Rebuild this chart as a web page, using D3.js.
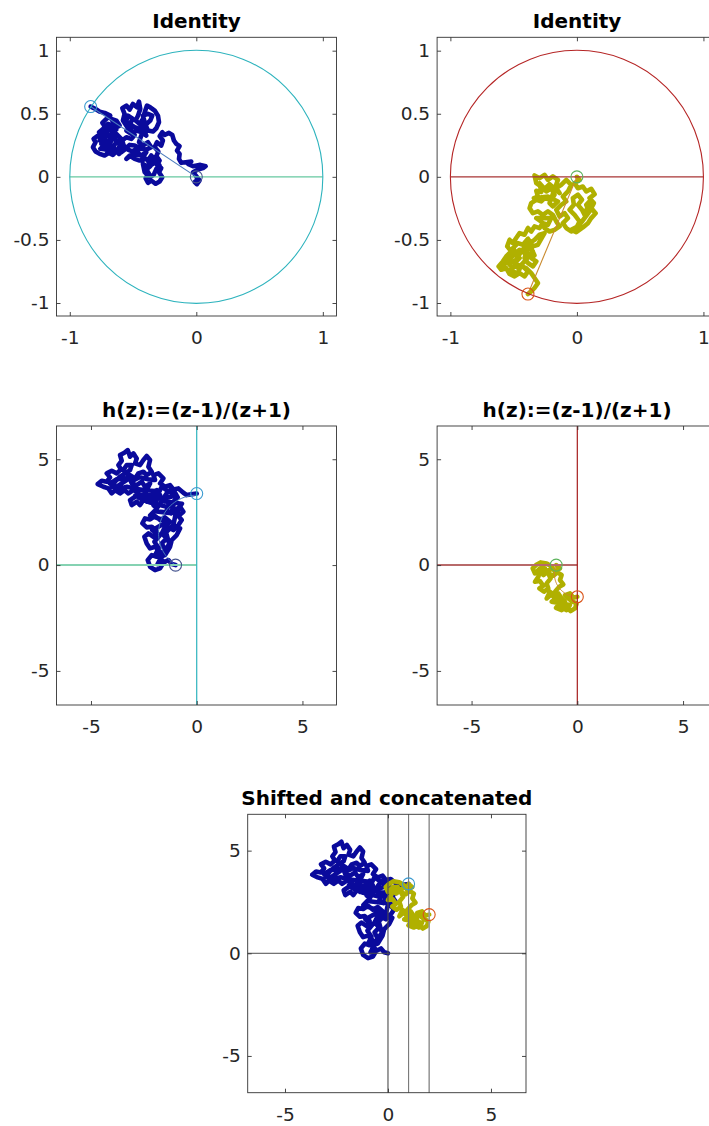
<!DOCTYPE html>
<html>
<head>
<meta charset="utf-8">
<script src="https://cdn.jsdelivr.net/npm/d3@7"></script>
<style>
  body { margin: 0; background: #fff; }
  svg { display: block; }
</style>
</head>
<body>
<div id="fig"></div>
<script>
// walk in the unit disk, from 0 until it hits the circle (blue)
var walkA = [[0,0],[0.013,-0.021],[-0.013,-0.042],[0.005,-0.058],[0.026,-0.029],[-0.005,0.011],[-0.026,0.037],[0.013,0.058],
  [0.053,0.069],[0.074,0.084],[0.032,0.095],[-0.026,0.084],[-0.066,0.103],[-0.040,0.121],[-0.084,0.116],[-0.119,0.111],
  [-0.137,0.142],[-0.132,0.182],[-0.153,0.208],[-0.132,0.243],[-0.158,0.261],[-0.177,0.288],[-0.190,0.332],[-0.216,0.348],
  [-0.250,0.332],[-0.269,0.354],[-0.290,0.322],[-0.264,0.288],[-0.277,0.248],[-0.311,0.274],[-0.329,0.235],[-0.300,0.201],
  [-0.316,0.164],[-0.290,0.129],[-0.311,0.095],[-0.277,0.069],[-0.295,0.037],[-0.269,-0.003],[-0.290,-0.037],[-0.321,-0.055],
  [-0.356,-0.029],[-0.382,-0.047],[-0.401,-0.011],[-0.374,0.024],[-0.395,0.058],[-0.364,0.084],[-0.382,0.129],[-0.356,0.169],
  [-0.329,0.142],[-0.343,0.103],[-0.382,0.077],[-0.422,0.103],[-0.408,0.037],[-0.369,-0.003],[-0.337,0.016],[-0.316,0.063],
  [-0.290,0.090],[-0.316,0.129],[-0.395,0.142],[-0.448,0.129],[-0.487,0.142],[-0.527,0.169],[-0.553,0.142],[-0.501,0.182],
  [-0.435,0.169],
  [-0.395,0.195],[-0.422,0.156],[-0.453,0.182],[-0.474,0.222],[-0.506,0.201],[-0.540,0.216],[-0.574,0.248],[-0.585,0.288],
  [-0.553,0.314],[-0.514,0.301],[-0.487,0.332],[-0.527,0.367],[-0.553,0.406],[-0.580,0.446],[-0.567,0.499],[-0.585,0.544],
  [-0.553,0.565],[-0.527,0.533],[-0.501,0.578],[-0.469,0.551],[-0.453,0.596],[-0.443,0.538],[-0.461,0.485],[-0.480,0.446],
  [-0.448,0.420],[-0.422,0.459],[-0.408,0.512],[-0.390,0.565],[-0.364,0.551],[-0.329,0.525],[-0.303,0.485],[-0.295,0.433],
  [-0.316,0.385],[-0.343,0.359],[-0.382,0.367],[-0.401,0.412],[-0.364,0.446],[-0.348,0.485],[-0.382,0.499],
  [-0.422,0.485],[-0.408,0.433],[-0.448,0.380],[-0.487,0.393],[-0.527,0.420],[-0.501,0.459],[-0.540,0.485],[-0.553,0.446],
  [-0.514,0.367],[-0.553,0.367],[-0.514,0.340],[-0.474,0.367],[-0.435,0.354],[-0.395,0.327],
  [-0.416,0.375],[-0.435,0.327],[-0.453,0.274],[-0.422,0.248],[-0.382,0.274],[-0.356,0.235],[-0.395,0.216],[-0.435,0.222],
  [-0.487,0.248],[-0.527,0.253],[-0.559,0.222],[-0.593,0.195],[-0.611,0.235],[-0.632,0.201],[-0.659,0.174],[-0.690,0.190],
  [-0.725,0.169],[-0.764,0.182],[-0.796,0.201],[-0.817,0.235],[-0.796,0.274],[-0.812,0.301],[-0.777,0.327],[-0.738,0.306],
  [-0.698,0.332],[-0.664,0.301],[-0.685,0.261],[-0.725,0.248],[-0.759,0.222],[-0.711,0.216],[-0.659,0.235],[-0.632,0.274],
  [-0.646,0.327],
  [-0.672,0.354],[-0.632,0.375],[-0.659,0.406],[-0.698,0.420],[-0.738,0.380],[-0.769,0.354],[-0.738,0.340],[-0.764,0.288],
  [-0.725,0.288],[-0.751,0.261],[-0.698,0.288],[-0.672,0.248],[-0.711,0.208],[-0.672,0.201],[-0.646,0.222],[-0.611,0.182],
  [-0.580,0.208],[-0.619,0.274],[-0.593,0.301],[-0.632,0.340],[-0.685,0.314],[-0.717,0.354],[-0.685,0.393],[-0.646,0.420],
  [-0.672,0.459],[-0.632,0.446],[-0.606,0.406],
  [-0.680,0.367],[-0.717,0.393],[-0.743,0.427],[-0.711,0.459],[-0.680,0.485],[-0.725,0.507],[-0.764,0.517],[-0.796,0.538],
  [-0.835,0.557]];

// second walk in the unit disk (yellow)
var walkB = [[0,0],[0.021,-0.024],[-0.018,-0.050],[0.008,-0.090],[0.047,-0.077],[0.074,-0.116],[0.113,-0.095],[0.140,-0.137],
  [0.100,-0.169],[0.134,-0.208],[0.113,-0.248],[0.148,-0.288],[0.113,-0.327],
  [0.087,-0.367],[0.047,-0.401],[-0.005,-0.438],[-0.045,-0.420],[0.008,-0.393],[0.040,-0.354],[0.100,-0.274],[0.074,-0.222],
  [0.100,-0.195],
  [0.061,-0.301],[0.040,-0.261],[0.008,-0.222],[0.040,-0.182],[0.008,-0.142],[-0.032,-0.169],[-0.024,-0.222],[-0.058,-0.261],
  [-0.018,-0.301],[0.021,-0.354],[-0.005,-0.406],[-0.045,-0.433],[-0.084,-0.406],[-0.111,-0.367],[-0.071,-0.327],[-0.097,-0.288],
  [-0.137,-0.314],[-0.163,-0.261],[-0.124,-0.222],[-0.084,-0.195],[-0.111,-0.156],[-0.071,-0.116],[-0.045,-0.063],[-0.084,-0.024],
  [-0.124,-0.063],
  [-0.163,-0.090],[-0.137,-0.129],[-0.216,-0.058],[-0.256,-0.095],[-0.295,-0.050],[-0.282,-0.121],[-0.321,-0.111],[-0.308,-0.156],
  [-0.340,-0.169],[-0.229,-0.156],[-0.150,-0.195],[-0.190,-0.235],[-0.216,-0.208],
  [-0.150,-0.024],[-0.190,0.003],[-0.229,-0.024],[-0.256,0.016],[-0.295,-0.011],[-0.335,0.011],[-0.321,-0.050],[-0.282,-0.077],
  [-0.242,-0.116],[-0.203,-0.090],[-0.177,-0.142],[-0.203,-0.182],[-0.256,-0.169],[-0.282,-0.195],[-0.321,-0.182],[-0.361,-0.208],
  [-0.374,-0.248],[-0.348,-0.288],[-0.308,-0.274],[-0.269,-0.301],[-0.229,-0.274],
  [-0.190,-0.301],[-0.163,-0.354],[-0.137,-0.393],[-0.177,-0.420],[-0.216,-0.433],[-0.256,-0.406],[-0.282,-0.354],[-0.321,-0.327],
  [-0.203,-0.327],[-0.229,-0.380],[-0.269,-0.367],[-0.295,-0.406],[-0.335,-0.393],[-0.361,-0.433],[-0.387,-0.406],[-0.414,-0.459],
  [-0.453,-0.446],[-0.480,-0.485],[-0.506,-0.525],[-0.532,-0.499],[-0.551,-0.551],[-0.519,-0.591],[-0.559,-0.631],[-0.585,-0.670],
  [-0.619,-0.710],[-0.598,-0.736],[-0.559,-0.723],[-0.532,-0.770],[-0.493,-0.789],[-0.453,-0.763],[-0.414,-0.789],[-0.387,-0.749],
  [-0.427,-0.710],[-0.466,-0.723],[-0.493,-0.683],[-0.453,-0.644],[-0.493,-0.617],[-0.453,-0.578],[-0.414,-0.604],[-0.387,-0.565],
  [-0.348,-0.591],[-0.361,-0.644],[-0.321,-0.670],[-0.348,-0.710],[-0.387,-0.683],[-0.414,-0.644],[-0.374,-0.525],[-0.335,-0.499],
  [-0.295,-0.459],[-0.256,-0.446],[-0.308,-0.538],[-0.348,-0.551],[-0.387,-0.491],[-0.427,-0.538],[-0.466,-0.525],[-0.506,-0.565],
  [-0.480,-0.604],[-0.525,-0.644],[-0.572,-0.691],[-0.577,-0.723],[-0.519,-0.749],[-0.466,-0.763],[-0.440,-0.697],[-0.401,-0.657],
  [-0.374,-0.612],[-0.335,-0.623],[-0.361,-0.565],[-0.401,-0.544],[-0.440,-0.591],[-0.480,-0.657],[-0.519,-0.683],
  [-0.545,-0.683],[-0.506,-0.723],[-0.466,-0.697],[-0.401,-0.723],[-0.361,-0.763],[-0.335,-0.802],[-0.308,-0.842],[-0.335,-0.881],
  [-0.361,-0.908],[-0.387,-0.929]];

// blue walk after h(z)
var walkAh = [[-1,0],[-1.182,0.047],[-1.340,0.236],[-1.576,0.110],[-1.734,-0.157],[-1.970,-0.236],[-2.206,-0.079],[-2.317,0.236],
  [-2.128,0.472],[-1.891,0.394],[-1.734,0.630],[-1.970,0.866],[-2.206,0.787],[-2.364,1.024],[-2.474,1.339],[-2.285,1.496],
  [-2.049,1.339],[-1.891,1.575],[-2.128,1.811],[-2.364,1.780],[-2.569,1.969],[-2.443,2.205],[-2.206,2.157],[-1.970,2.315],
  [-1.734,2.126],[-1.497,2.252],[-1.261,2.047],
  [-1.497,1.811],[-1.655,1.496],[-1.418,1.260],[-1.655,1.024],[-1.497,0.709],[-1.734,0.394],[-1.497,0.472],[-1.261,0.866],
  [-1.182,1.181],[-0.946,1.417],[-0.788,1.732],
  [-1.340,1.780],[-1.103,1.654],[-0.867,1.890],[-0.709,2.126],[-0.867,2.315],[-0.630,2.520],[-0.788,2.756],[-1.024,2.598],
  [-1.214,2.441],[-1.418,2.598],[-1.340,2.835],[-1.103,2.992],[-0.898,3.197],[-1.024,3.417],[-1.261,3.543],[-1.418,3.386],
  [-1.576,3.150],[-1.734,2.913],[-1.891,2.677],[-2.049,2.835],[-1.891,3.071],[-1.734,3.307],[-1.891,3.543],[-2.128,3.386],
  [-2.285,3.150],[-2.522,3.071],[-2.679,2.835],[-2.837,2.992],[-3.073,2.835],[-3.152,3.071],[-2.916,3.228],[-2.758,3.417],
  [-2.994,3.543],[-3.231,3.386],[-3.420,3.543],[-3.625,3.386],[-3.861,3.543],[-4.019,3.386],[-4.177,3.622],[-4.413,3.701],
  [-4.681,3.827],[-4.492,3.984],[-4.255,3.937],[-4.098,4.142],[-4.255,4.331],[-4.019,4.457],[-3.783,4.331],[-3.578,4.520],
  [-3.704,4.724],[-3.546,4.929],[-3.625,5.197],[-3.420,5.307],[-3.262,5.433],[-3.152,5.118],[-2.994,5.276],[-2.837,5.039],
  [-2.916,4.803],[-2.679,4.724],[-2.522,4.961],[-2.364,5.150],[-2.206,4.961],[-2.285,4.646],[-2.128,4.409],[-2.364,4.252],
  [-2.522,4.409],[-2.758,4.331],[-2.916,4.094],[-3.152,4.252],[-3.310,4.016],
  [-3.546,3.858],[-3.783,3.701],[-4.019,3.701],[-3.861,3.937],[-3.625,4.173],[-3.388,4.331],[-3.152,4.488],[-3.073,4.724],
  [-3.310,4.724],[-3.467,4.488],[-3.231,4.252],
  [-3.073,3.858],[-2.837,3.780],[-2.600,3.937],[-2.443,3.701],[-2.206,3.858],
  [-2.364,3.543],[-2.600,3.307],[-2.364,2.992],[-2.049,3.102],[-1.812,3.386],[-1.655,3.701],
  [-1.30,3.45],[-1.00,3.30],[-1.30,3.20],[-1.70,3.15],[-2.10,3.25],[-2.50,3.35],[-2.90,3.30],[-2.60,3.10],
  [-2.20,2.95],[-1.80,2.85],[-1.40,2.75],[-1.10,2.80],[-1.20,2.45],[-1.60,2.50],[-2.00,2.55],[-2.20,2.35],
  [-1.80,2.20],[-1.40,2.05],[-1.75,1.85],[-2.10,1.65],[-1.75,1.40],[-2.00,1.10],[-1.80,0.80],[-1.95,0.50],
  [-1.60,0.20],[-1.85,0.05],[-1.55,0.60],[-1.30,1.00],[-1.45,1.55],[-1.10,1.90],[-1.00,2.40],[-0.70,2.90],
  [-1.50,3.00],[-2.00,3.50],[-2.50,3.55],[-2.90,3.60],[-3.30,3.70],[-3.70,3.60],[-4.10,3.85],[-3.80,4.05],
  [-3.40,4.10],[-3.00,4.00],[-2.70,4.15],[-2.30,4.05],
  [-1.970,4.016],[-2.049,4.252],[-1.812,4.331],[-1.576,4.094],[-1.734,3.858],[-1.497,3.701],[-1.261,3.780],[-1.103,3.575],
  [-0.867,3.622],[-0.630,3.417],[-0.473,3.307],[-0.268,3.339],[0,3.38]];

// yellow walk after h(z)
var walkBh = [[-1,0],[-0.820,-0.157],[-1.056,-0.315],[-1.214,-0.079],[-1.450,0.079],[-1.734,0.126],[-1.954,0.000],[-2.112,-0.157],
  [-2.002,-0.394],[-1.765,-0.157],[-1.529,-0.157],[-1.608,-0.472],[-1.293,-0.236],
  [-1.765,-0.315],[-1.844,-0.551],[-2.002,-0.787],[-1.765,-0.756],[-1.608,-0.976],[-1.797,-1.102],[-1.576,-1.260],
  [-1.371,-1.102],[-1.450,-0.866],[-1.261,-0.630],[-1.371,-0.394],[-1.135,-0.504],[-0.946,-0.346],[-0.741,-0.472],[-0.820,-0.709],
  [-0.662,-0.913],[-0.851,-1.024],[-1.056,-1.260],[-1.261,-1.417],[-1.450,-1.575],
  [-1.293,-1.260],[-1.135,-1.496],[-0.898,-1.339],[-0.741,-1.575],[-0.583,-1.732],[-0.820,-1.969],[-0.504,-2.126],[-0.347,-1.890],
  [-1.214,-1.732],[-0.977,-1.575],[-0.820,-1.811],[-1.009,-2.016],[-0.741,-2.126],[-0.504,-1.969],[-0.315,-2.173],[-0.110,-2.047],
  [-0.032,-1.811],[-0.221,-1.732],[-0.426,-1.575],[-0.583,-1.417],[-0.347,-1.339],[-0.189,-1.543],[0,-1.496]];

// offsets used in the last panel
var shiftA = [1, 0];
var shiftB = [2, 3.38];
var guideX = [0, 1, 2];

var ticksUnitX = [-1, 0, 1];
var ticksUnitY = [-1, -0.5, 0, 0.5, 1];
var ticksBig = [-5, 0, 5];
var titles = ['Identity', 'Identity', 'h(z):=(z-1)/(z+1)', 'h(z):=(z-1)/(z+1)', 'Shifted and concatenated'];

var blue = '#0a0a9c', yellow = '#b0b000';

var svg = d3.select('#fig')
    .append('svg')
    .attr('width', 709)
    .attr('height', 1126);

svg.append('rect')
    .attr('width', 709)
    .attr('height', 1126)
    .attr('fill', '#fff');

// h(z) = (z-1)/(z+1), used for the image of the chord only
function h(p) {
    var a = p[0], b = p[1], d = (a + 1) * (a + 1) + b * b;
    return [(a * a + b * b - 1) / d, 2 * b / d];
}

function panel(left, top, w, ht, xd, yd, tx, ty, title) {
    var x = d3.scaleLinear().domain(xd).range([left, left + w]);
    var y = d3.scaleLinear().domain(yd).range([top + ht, top]);
    var g = svg.append('g');

    var under = g.append('g');   // walks go here
    var over = g.append('g');    // guide lines and markers

    // ticks on all four sides, pointing in
    var axes = [
        [d3.axisBottom(x).tickValues(tx).tickFormat(String).tickSize(-4).tickPadding(15), 'translate(0,' + (top + ht) + ')'],
        [d3.axisTop(x).tickValues(tx).tickSize(-4).tickFormat(''), 'translate(0,' + top + ')'],
        [d3.axisLeft(y).tickValues(ty).tickFormat(String).tickSize(-4).tickPadding(7), 'translate(' + left + ',0)'],
        [d3.axisRight(y).tickValues(ty).tickSize(-4).tickFormat(''), 'translate(' + (left + w) + ',0)']
    ];
    axes.forEach(function (a) {
        var ag = g.append('g').attr('transform', a[1]).call(a[0]);
        ag.select('.domain').remove();
        ag.selectAll('line').attr('stroke', '#333').attr('stroke-width', 0.9);
        ag.selectAll('text')
            .attr('font-family', '"DejaVu Sans", sans-serif')
            .attr('font-size', 18.5)
            .attr('fill', '#262626');
    });

    // axes box
    g.append('rect')
        .attr('x', left)
        .attr('y', top)
        .attr('width', w)
        .attr('height', ht)
        .attr('fill', 'none')
        .attr('stroke', '#333')
        .attr('stroke-width', 0.9);

    g.append('text')
        .attr('x', left + w / 2)
        .attr('y', top - 9)
        .attr('text-anchor', 'middle')
        .attr('font-family', '"DejaVu Sans", sans-serif')
        .attr('font-weight', 'bold')
        .attr('font-size', 20)
        .attr('fill', '#000')
        .text(title);

    return { x: x, y: y, under: under, over: over };
}

// the walk, drawn wide enough to read as the dense cloud of the original trace
function walk(p, data, color, off) {
    off = off || [0, 0];
    var line = d3.line()
        .x(function (d) { return p.x(d[0] + off[0]); })
        .y(function (d) { return p.y(d[1] + off[1]); });
    p.under.append('path')
        .attr('d', line(data))
        .attr('fill', 'none')
        .attr('stroke', color)
        .attr('stroke-width', 4.6)
        .attr('stroke-linejoin', 'round')
        .attr('stroke-linecap', 'round');
}

function seg(p, x1, y1, x2, y2, color, sw) {
    p.over.append('line')
        .attr('x1', p.x(x1))
        .attr('y1', p.y(y1))
        .attr('x2', p.x(x2))
        .attr('y2', p.y(y2))
        .attr('stroke', color)
        .attr('stroke-width', sw || 1);
}

function marker(p, pt, color) {
    p.over.append('circle')
        .attr('cx', p.x(pt[0]))
        .attr('cy', p.y(pt[1]))
        .attr('r', 6)
        .attr('fill', 'none')
        .attr('stroke', color)
        .attr('stroke-width', 1.1);
}

function chordImage(p, data, color) {
    var a = data[0], b = data[data.length - 1];
    var pts = d3.range(0, 1.0001, 0.02).map(function (t) {
        return h([a[0] + t * (b[0] - a[0]), a[1] + t * (b[1] - a[1])]);
    });
    p.over.append('path')
        .attr('d', d3.line().x(function (d) { return p.x(d[0]); }).y(function (d) { return p.y(d[1]); })(pts))
        .attr('fill', 'none')
        .attr('stroke', color)
        .attr('stroke-width', 1);
}

function unitDisk(p, circleColor, lineColor, data, walkColor, chordColor, startColor, endColor) {
    walk(p, data, walkColor);
    var end = data[data.length - 1];
    seg(p, 0, 0, end[0], end[1], chordColor, 1.1);
    seg(p, -1, 0, 1, 0, lineColor, 1.3);
    p.over.append('circle')
        .attr('cx', p.x(0))
        .attr('cy', p.y(0))
        .attr('r', p.x(1) - p.x(0))
        .attr('fill', 'none')
        .attr('stroke', circleColor)
        .attr('stroke-width', 1.1);
    marker(p, data[0], startColor);
    marker(p, end, endColor);
}

// top row: identity
var p1 = panel(56.5, 37.3, 280, 278.7, [-1.105, 1.108], [-1.103, 1.106], ticksUnitX, ticksUnitY, titles[0]);
unitDisk(p1, '#2db3bd', '#66c8a0', walkA, blue, '#4a7bbd', '#46558f', '#3a9ad0');

var p2 = panel(437.1, 37.3, 280, 278.7, [-1.105, 1.108], [-1.103, 1.106], ticksUnitX, ticksUnitY, titles[1]);
unitDisk(p2, '#b52525', '#a83434', walkB, yellow, '#c98a2e', '#5cb35c', '#d9541a');

// middle row: after h
var p3 = panel(56.5, 426, 280, 279, [-6.63, 6.61], [-6.61, 6.57], ticksBig, ticksBig, titles[2]);
walk(p3, walkAh, blue);
chordImage(p3, walkA, '#4a7bbd');
seg(p3, -6.63, 0, 0, 0, '#85d2b2', 2);
seg(p3, 0, -6.61, 0, 6.57, '#2db3bd', 1.2);
marker(p3, walkAh[0], '#46558f');
marker(p3, walkAh[walkAh.length - 1], '#3a9ad0');

var p4 = panel(437.1, 426, 280, 279, [-6.63, 6.61], [-6.61, 6.57], ticksBig, ticksBig, titles[3]);
walk(p4, walkBh, yellow);
chordImage(p4, walkB, '#c98a2e');
seg(p4, -6.63, 0, 0, 0, '#b86a6a', 2);
seg(p4, 0, -6.61, 0, 6.57, '#a51c1c', 1.2);
marker(p4, walkBh[0], '#5cb35c');
marker(p4, walkBh[walkBh.length - 1], '#d9541a');

// bottom: shifted and concatenated
var p5 = panel(247.7, 814.3, 278.3, 278.4, [-6.81, 6.70], [-6.79, 6.77], ticksBig, ticksBig, titles[4]);
walk(p5, walkAh, blue, shiftA);
walk(p5, walkBh, yellow, shiftB);
seg(p5, -6.81, 0, 6.70, 0, '#4d4d4d', 1);
var guideColors = ['#4d4d4d', '#777', '#999'];
guideX.forEach(function (gx, i) {
    seg(p5, gx, -6.79, gx, 6.77, guideColors[i], i === 2 ? 1.6 : 1.1);
});
var lastA = walkAh[walkAh.length - 1], lastB = walkBh[walkBh.length - 1];
marker(p5, [lastA[0] + shiftA[0], lastA[1] + shiftA[1]], '#3a9ad0');
marker(p5, [lastB[0] + shiftB[0], lastB[1] + shiftB[1]], '#d9541a');
</script>
</body>
</html>
